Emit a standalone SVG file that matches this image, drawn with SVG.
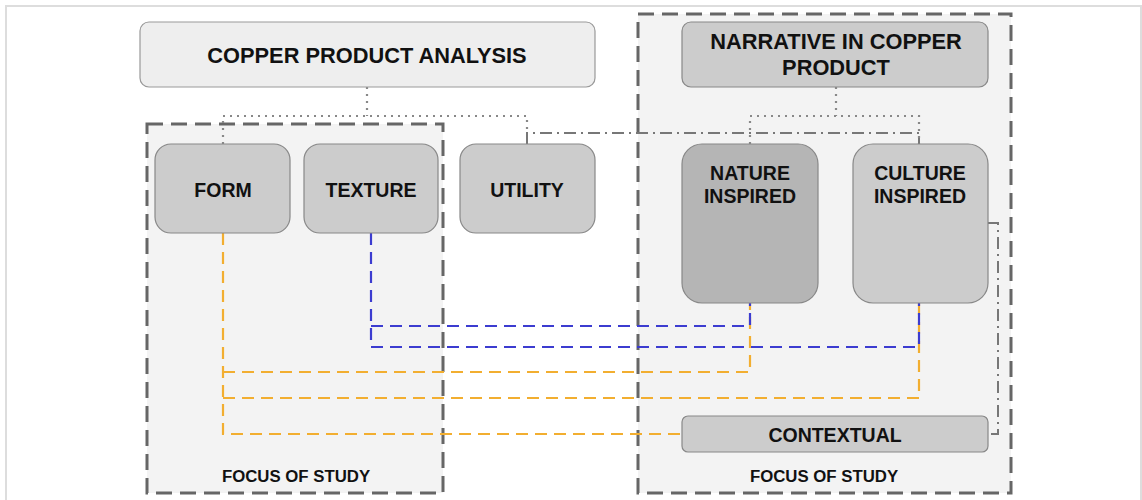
<svg xmlns="http://www.w3.org/2000/svg" width="1142" height="500" viewBox="0 0 1142 500">
<style>
text{font-family:"Liberation Sans",Arial,sans-serif;font-weight:bold;fill:#111111;text-anchor:middle}
.grp{fill:#f3f3f3;stroke:#666;stroke-width:3;stroke-dasharray:16 8}
.box{fill:#cccccc;stroke:#888;stroke-width:1.2}
.dot{fill:none;stroke:#888;stroke-width:2.2;stroke-dasharray:2 5}
.dd{fill:none;stroke:#777;stroke-width:2;stroke-dasharray:12 5 2 5}
.or{fill:none;stroke:#f2ae30;stroke-width:2.2;stroke-dasharray:12 7}
.bl{fill:none;stroke:#3c3cd0;stroke-width:2.2;stroke-dasharray:12 7}
.t1{font-size:21.8px}
.t2{font-size:19.5px}
.t3{font-size:16.8px}
</style>
<rect x="0" y="0" width="1142" height="500" fill="#ffffff"/>
<rect x="6" y="6" width="1135" height="500" fill="none" stroke="#dddddd" stroke-width="2"/>
<g id="group-left">
<rect class="grp" x="147" y="124" width="296" height="369"/>
<text class="t3" x="296" y="482">FOCUS OF STUDY</text>
</g>
<g id="group-right">
<rect class="grp" x="638" y="14" width="373" height="479"/>
<text class="t3" x="824" y="482">FOCUS OF STUDY</text>
</g>
<g id="connectors">
<path class="dot" d="M367 87V116M223 144V116H527V133"/>
<path class="dot" d="M836 87V116M750 144V116H919V144"/>
<path class="dd" d="M527 144V133H919V144"/>
<path class="dd" d="M988 223H998V434H988"/>
<path class="or" d="M223 233V434H682"/>
<path class="or" d="M223 372H750V303"/>
<path class="or" d="M223 398H919V303"/>
<path class="bl" d="M371 233V347H919V303"/>
<path class="bl" d="M371 326H750V303"/>
</g>
<g id="copper-product-analysis">
<rect x="140" y="22" width="455" height="65" rx="9" fill="#eeeeee" stroke="#999" stroke-width="1.2"/>
<text class="t1" x="367" y="63">COPPER PRODUCT ANALYSIS</text>
</g>
<g id="form">
<rect class="box" x="155" y="144" width="135" height="89" rx="16"/>
<text class="t2" x="223" y="197">FORM</text>
</g>
<g id="texture">
<rect class="box" x="304" y="144" width="134" height="89" rx="16"/>
<text class="t2" x="371" y="197">TEXTURE</text>
</g>
<g id="utility">
<rect class="box" x="460" y="144" width="135" height="89" rx="16"/>
<text class="t2" x="527" y="197">UTILITY</text>
</g>
<g id="narrative">
<rect class="box" x="682" y="22" width="306" height="65" rx="9" fill="#d0d0d0"/>
<text class="t1" x="836" y="49">NARRATIVE IN COPPER</text>
<text class="t1" x="836" y="75">PRODUCT</text>
</g>
<g id="nature-inspired">
<rect class="box" x="682" y="144" width="136" height="159" rx="20" style="fill:#b5b5b5"/>
<text class="t2" x="750" y="180">NATURE</text>
<text class="t2" x="750" y="203">INSPIRED</text>
</g>
<g id="culture-inspired">
<rect class="box" x="853" y="144" width="135" height="159" rx="20"/>
<text class="t2" x="920" y="180">CULTURE</text>
<text class="t2" x="920" y="203">INSPIRED</text>
</g>
<g id="contextual">
<rect class="box" x="682" y="416" width="306" height="36" rx="6"/>
<text class="t2" x="835" y="442">CONTEXTUAL</text>
</g>
</svg>
